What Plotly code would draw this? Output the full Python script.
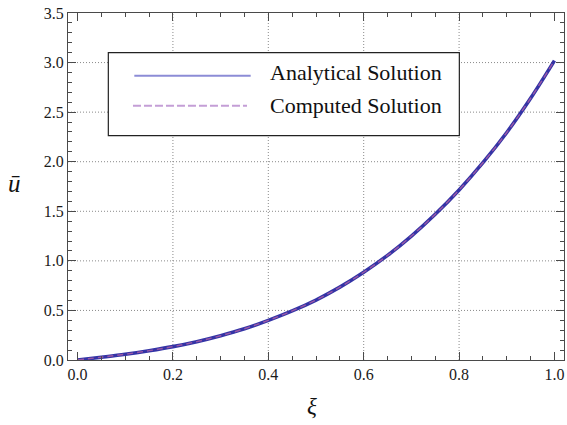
import plotly.graph_objects as go

# Data
xi = [0.0, 0.05, 0.1, 0.15, 0.2, 0.25, 0.3, 0.35, 0.4, 0.45, 0.5,
      0.55, 0.6, 0.65, 0.7, 0.75, 0.8, 0.85, 0.9, 0.95, 1.0]
u_analytical = [0.0, 0.028, 0.058, 0.094, 0.135, 0.185, 0.245, 0.315, 0.40, 0.495, 0.605,
                0.735, 0.885, 1.055, 1.25, 1.47, 1.715, 1.99, 2.295, 2.64, 3.02]
u_computed = [0.0, 0.028, 0.058, 0.094, 0.135, 0.185, 0.245, 0.315, 0.40, 0.495, 0.605,
              0.735, 0.885, 1.055, 1.25, 1.47, 1.715, 1.99, 2.295, 2.64, 3.02]
series_names = ["Analytical Solution", "Computed Solution"]
x_ticks = [0.0, 0.2, 0.4, 0.6, 0.8, 1.0]
x_ticklabels = ["0.0", "0.2", "0.4", "0.6", "0.8", "1.0"]
y_ticks = [0.0, 0.5, 1.0, 1.5, 2.0, 2.5, 3.0, 3.5]
y_ticklabels = ["0.0", "0.5", "1.0", "1.5", "2.0", "2.5", "3.0", "3.5"]
x_grid = [0.2, 0.4, 0.6, 0.8]
y_grid = [0.5, 1.0, 1.5, 2.0, 2.5, 3.0]

FONT = "'Liberation Serif', Tinos, 'Times New Roman', 'DejaVu Serif', serif"
C_AN = "#3434a6"
C_CO = "#9a58a6"
C_AN_LEG = "#8c8cd6"
C_CO_LEG = "#c49ed6"
GRID = "#8a8a8a"
FRAME = "#4a4a4a"

fig = go.Figure()
fig.add_trace(go.Scatter(x=xi, y=u_analytical, mode="lines", name=series_names[0],
                         line=dict(color=C_AN, width=3.6, shape="spline"),
                         showlegend=False))
fig.add_trace(go.Scatter(x=xi, y=u_computed, mode="lines", name=series_names[1],
                         line=dict(color=C_CO, width=1.4, dash="6px,4px", shape="spline"),
                         showlegend=False))

axis_common = dict(
    showline=True, linecolor=FRAME, linewidth=1.2, mirror="allticks",
    ticks="inside", ticklen=8, tickwidth=1, tickcolor=FRAME,
    showgrid=False, zeroline=False,
    tickfont=dict(family=FONT, size=16, color="#1a1a1a"),
    minor=dict(ticks="inside", ticklen=4, tickwidth=1, tickcolor=FRAME, showgrid=False),
)

fig.update_xaxes(range=[-0.02, 1.02], tickvals=x_ticks, ticktext=x_ticklabels,
                 **axis_common)
fig.update_xaxes(minor_dtick=0.05, minor_tick0=0)
fig.update_yaxes(range=[0, 3.5], tickvals=y_ticks, ticktext=y_ticklabels,
                 **axis_common)
fig.update_yaxes(minor_dtick=0.1, minor_tick0=0)

shapes = []
for gx in x_grid:
    shapes.append(dict(type="line", xref="x", yref="paper", x0=gx, x1=gx, y0=0, y1=1,
                       line=dict(color=GRID, width=1, dash="1px,2px"), layer="below"))
for gy in y_grid:
    shapes.append(dict(type="line", xref="paper", yref="y", x0=0, x1=1, y0=gy, y1=gy,
                       line=dict(color=GRID, width=1, dash="1px,2px"), layer="below"))

shapes += [
    dict(type="rect", xref="paper", yref="paper", x0=0.0813, x1=0.789, y0=0.6464, y1=0.8856,
         line=dict(color="#222222", width=1.2), fillcolor="white", layer="above"),
    dict(type="line", xref="paper", yref="paper", x0=0.1337, x1=0.3683, y0=0.8193, y1=0.8193,
         line=dict(color=C_AN_LEG, width=2), layer="above"),
    dict(type="line", xref="paper", yref="paper", x0=0.1310, x1=0.3609, y0=0.7329, y1=0.7329,
         line=dict(color=C_CO_LEG, width=2, dash="8px,3px"), layer="above"),
]
annotations = [
    dict(text=series_names[0], xref="paper", yref="paper", x=0.4032, y=0.8282,
         xanchor="left", yanchor="middle", showarrow=False,
         font=dict(family=FONT, size=22, color="#111111")),
    dict(text=series_names[1], xref="paper", yref="paper", x=0.4032, y=0.7323,
         xanchor="left", yanchor="middle", showarrow=False,
         font=dict(family=FONT, size=22, color="#111111")),
    dict(text="<i>ξ</i>", xref="paper", yref="paper", x=0.4913, y=-0.1346,
         xanchor="center", yanchor="middle", showarrow=False,
         font=dict(family=FONT, size=23, color="#111111")),
    dict(text="<i>ū</i>", xref="paper", yref="paper", x=-0.1069, y=0.51,
         xanchor="center", yanchor="middle", showarrow=False,
         font=dict(family=FONT, size=25, color="#111111")),
]

fig.update_layout(
    width=567, height=425,
    margin=dict(l=68, r=3, t=13, b=65),
    paper_bgcolor="white", plot_bgcolor="white",
    shapes=shapes, annotations=annotations,
    showlegend=False,
    font=dict(family=FONT),
)

fig.write_html("out.html")
